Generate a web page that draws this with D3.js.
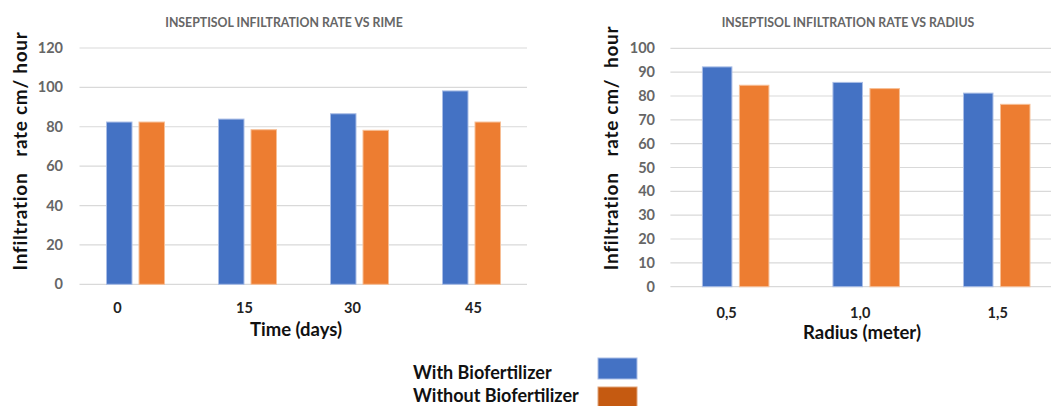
<!DOCTYPE html>
<html>
<head>
<meta charset="utf-8">
<script src="https://cdn.jsdelivr.net/npm/d3@7"></script>
<style>
  body { margin: 0; background: #fff; }
  svg { display: block; font-family: Lato, "Open Sans", sans-serif; }
</style>
</head>
<body>
<svg id="chart" width="1051" height="406"></svg>
<script>
// Time chart data
var timeCats = ['0', '15', '30', '45'];
var timeWith = [82.4, 83.9, 86.6, 98.2];
var timeWithout = [82.4, 78.5, 78.2, 82.4];
var timeTicks = [0, 20, 40, 60, 80, 100, 120];

// Radius chart data
var radiusCats = ['0,5', '1,0', '1,5'];
var radiusWith = [92.2, 85.7, 81.2];
var radiusWithout = [84.5, 83.1, 76.5];
var radiusTicks = [0, 10, 20, 30, 40, 50, 60, 70, 80, 90, 100];

var seriesNames = ['With Biofertilizer', 'Without Biofertilizer'];
var barColors = ['#4472C4', '#ED7D31'];
var legendColors = ['#4472C4', '#C55A11'];

var svg = d3.select('#chart');

function drawPanel(opt) {
  var g = svg.append('g');
  var x = d3.scaleBand().domain(opt.cats).range([opt.x0, opt.x1]);
  var y = d3.scaleLinear().domain([0, opt.max]).range([opt.y0, opt.y1]);

  // gridlines
  g.selectAll('.grid').data(opt.ticks).enter().append('line')
    .attr('x1', opt.x0).attr('x2', opt.gridEnd)
    .attr('y1', function(d){ return y(d); })
    .attr('y2', function(d){ return y(d); })
    .attr('stroke', '#d9d9d9').attr('stroke-width', 1.2);

  // y tick labels
  g.selectAll('.ytick').data(opt.ticks).enter().append('text')
    .attr('x', opt.tickX)
    .attr('y', function(d){ return y(d); })
    .attr('dy', '0.35em')
    .attr('text-anchor', 'end')
    .attr('font-size', 14.5).attr('font-weight', 'bold')
    .attr('fill', '#666')
    .text(function(d){ return d; });

  // bars
  var sets = [opt.withVals, opt.withoutVals];
  sets.forEach(function(vals, s) {
    g.selectAll('.bar' + s).data(vals).enter().append('rect')
      .attr('x', function(d, i){
        var c = x(opt.cats[i]) + x.bandwidth() / 2;
        return s === 0 ? c - opt.gap / 2 - opt.barW : c + opt.gap / 2;
      })
      .attr('width', opt.barW)
      .attr('y', function(d){ return y(d); })
      .attr('height', function(d){ return y(0) - y(d); })
      .attr('fill', barColors[s])
      .attr('stroke', s === 0 ? '#a9bde6' : '#f7bf96')
      .attr('stroke-width', 1);
  });

  // x labels (slightly off-centre in the original)
  g.selectAll('.xtick').data(opt.cats).enter().append('text')
    .attr('x', function(d, i){ return x(d) + x.bandwidth() / 2 + opt.labelShift[i]; })
    .attr('y', opt.xLabelY)
    .attr('text-anchor', 'middle')
    .attr('font-size', 14.5).attr('font-weight', 'bold')
    .attr('fill', '#222')
    .text(function(d){ return d; });

  // title
  g.append('text')
    .attr('x', opt.titleX).attr('y', 26.5)
    .attr('text-anchor', 'middle')
    .attr('font-size', 12.3).attr('font-weight', 'bold')
    .attr('fill', '#666')
    .text(opt.title);

  // x axis title
  g.append('text')
    .attr('x', opt.xTitleX).attr('y', opt.xTitleY)
    .attr('text-anchor', 'middle')
    .attr('font-size', 18.5).attr('font-weight', 'bold')
    .attr('fill', '#111')
    .text(opt.xTitle);

  // y axis title
  g.append('text')
    .attr('transform', 'translate(' + opt.yTitleX + ',' + opt.yTitleY + ') rotate(-90)')
    .attr('text-anchor', 'middle')
    .attr('font-size', 19).attr('font-weight', 'bold')
    .attr('letter-spacing', 0.7)
    .attr('fill', '#111')
    .style('white-space', 'pre')
    .text(opt.yTitle);
}

drawPanel({
  cats: timeCats, withVals: timeWith, withoutVals: timeWithout,
  ticks: timeTicks, max: 120,
  x0: 79.5, x1: 527.5, gridEnd: 527, y0: 284.3, y1: 48,
  barW: 25.5, gap: 7, tickX: 63, xLabelY: 313,
  labelShift: [-18, -3, -7, 2],
  title: 'INSEPTISOL INFILTRATION RATE VS RIME', titleX: 284,
  xTitle: 'Time (days)', xTitleX: 296, xTitleY: 336,
  yTitle: 'Infiltration   rate cm/ hour',
  yTitleX: 27, yTitleY: 151
});

drawPanel({
  cats: radiusCats, withVals: radiusWith, withoutVals: radiusWithout,
  ticks: radiusTicks, max: 100,
  x0: 670.4, x1: 1062, gridEnd: 1051, y0: 286.7, y1: 48.3,
  barW: 29.5, gap: 7.5, tickX: 655, xLabelY: 318,
  labelShift: [-9, -6, 1],
  title: 'INSEPTISOL INFILTRATION RATE VS RADIUS', titleX: 848,
  xTitle: 'Radius (meter)', xTitleX: 862, xTitleY: 339,
  yTitle: 'Infiltration   rate cm/  hour',
  yTitleX: 618, yTitleY: 148
});

// legend
var legend = svg.append('g');
seriesNames.forEach(function(name, i) {
  legend.append('text')
    .attr('x', 413).attr('y', 379 + i * 23)
    .attr('font-size', 18).attr('font-weight', 'bold')
    .attr('fill', '#111')
    .text(name);
  legend.append('rect')
    .attr('x', 598).attr('y', 358 + i * 29)
    .attr('width', 39).attr('height', 21)
    .attr('fill', legendColors[i])
    .attr('stroke', i === 0 ? '#a9bde6' : '#e0a37a').attr('stroke-width', 1);
});
</script>
</body>
</html>
